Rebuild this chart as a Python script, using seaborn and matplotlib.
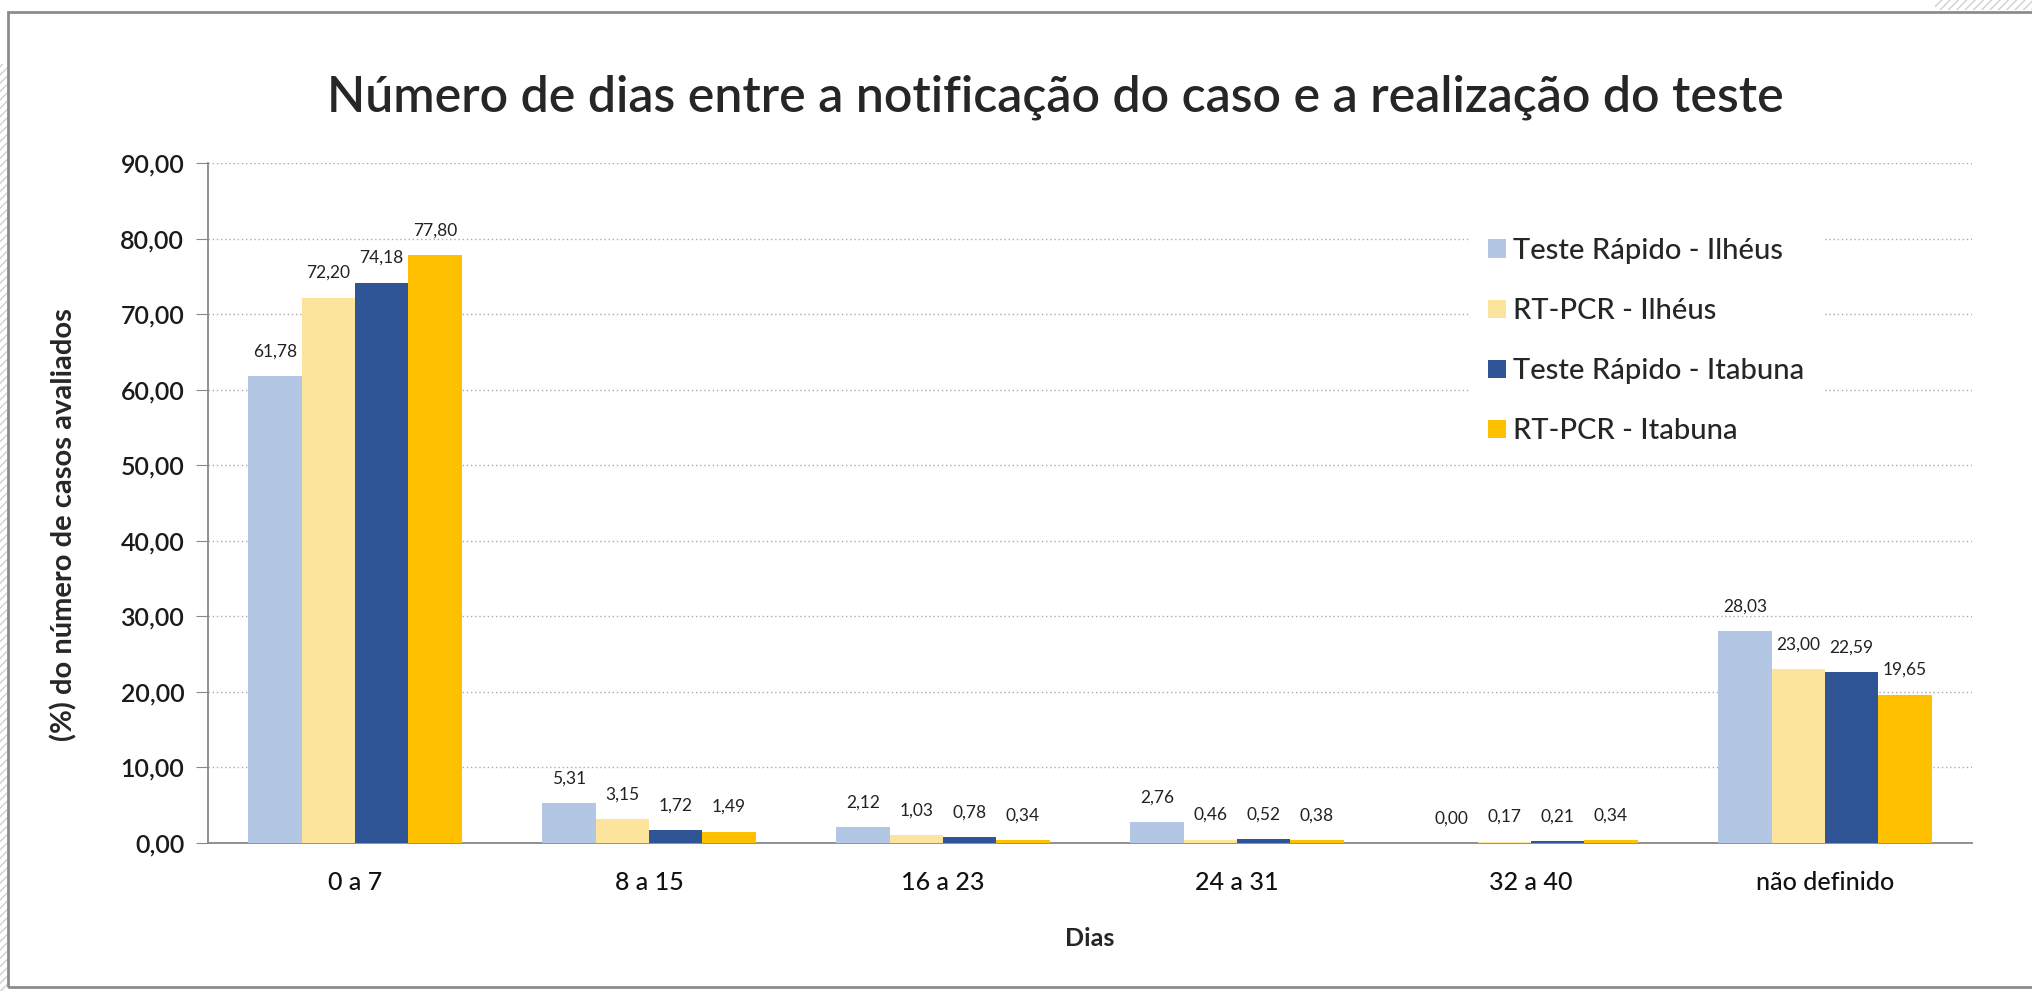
import pandas as pd
import matplotlib
matplotlib.use("Agg")
import matplotlib.pyplot as plt
import seaborn as sns
from matplotlib.patches import Rectangle

# dados
categorias = ["0 a 7", "8 a 15", "16 a 23", "24 a 31", "32 a 40", "não definido"]
series = ["Teste Rápido - Ilhéus", "RT-PCR - Ilhéus", "Teste Rápido - Itabuna", "RT-PCR - Itabuna"]
tr_ilheus = [61.78, 5.31, 2.12, 2.76, 0.00, 28.03]
pcr_ilheus = [72.20, 3.15, 1.03, 0.46, 0.17, 23.00]
tr_itabuna = [74.18, 1.72, 0.78, 0.52, 0.21, 22.59]
pcr_itabuna = [77.80, 1.49, 0.34, 0.38, 0.34, 19.65]
cores = ["#B3C6E4", "#FCE49C", "#2F5597", "#FFC000"]

linhas = []
for s, vals in zip(series, [tr_ilheus, pcr_ilheus, tr_itabuna, pcr_itabuna]):
    for c, v in zip(categorias, vals):
        linhas.append({"Dias": c, "serie": s, "valor": v})
df = pd.DataFrame(linhas)

sns.set_style("white")
plt.rcParams['font.family'] = ['Lato', 'DejaVu Sans']

fig = plt.figure(figsize=(20.33, 9.91), dpi=100)
ax = fig.add_axes([0.1023, 0.1493, 0.8677, 0.6862])

sns.barplot(data=df, x="Dias", y="valor", hue="serie", order=categorias,
            hue_order=series, palette=cores, width=0.725, saturation=1,
            linewidth=0, ax=ax, zorder=3, legend=True)

for cont in ax.containers:
    lbls = [f"{b.get_height():.2f}".replace(".", ",") for b in cont]
    ax.bar_label(cont, labels=lbls, padding=12, fontsize=12.5, color="#222222")

ax.set_ylim(0, 90)
ax.set_xlim(-0.5, len(categorias) - 0.5)
ax.set_yticks(range(0, 91, 10))
ax.set_yticklabels([f"{v:.2f}".replace(".", ",") for v in range(0, 91, 10)],
                   fontsize=18, fontweight="semibold", color="#1a1a1a")
ax.tick_params(axis="x", which="major", length=0, labelsize=18, pad=20, labelcolor="#111111")
for t in ax.get_xticklabels():
    t.set_fontweight("medium")
ax.set_xticks([i + 0.5 for i in range(-1, len(categorias))], minor=True)
ax.tick_params(axis="x", which="minor", length=9, color="#888888", direction="out")
ax.tick_params(axis="y", length=9, color="#888888", direction="out", left=True, pad=8)
ax.grid(axis="y", linestyle=(0, (1, 2)), color="#aaaaaa", linewidth=1, zorder=0)
ax.set_axisbelow(True)

for lado in ["top", "right"]:
    ax.spines[lado].set_visible(False)
for lado in ["left", "bottom"]:
    ax.spines[lado].set_color("#888888")
    ax.spines[lado].set_linewidth(1.3)

ax.set_xlabel("Dias", fontsize=18, fontweight="bold", labelpad=24)
ax.set_ylabel("(%) do número de casos avaliados", fontsize=21, fontweight="bold")
ax.yaxis.set_label_coords(-0.074, 0.468)

leg = ax.legend(loc="upper left", bbox_to_anchor=(0.7076, 0.937), frameon=True,
                fontsize=21, labelspacing=1.17, handlelength=0.6, handleheight=0.6,
                handletextpad=0.25, borderpad=0.6)
leg.get_frame().set_facecolor("white")
leg.get_frame().set_edgecolor("white")
leg.get_frame().set_alpha(1)
for t in leg.get_texts():
    t.set_fontweight("medium")

fig.text(0.519, 0.887, "Número de dias entre a notificação do caso e a realização do teste",
         fontsize=36, fontweight="semibold", ha="center", va="baseline")

# moldura
fig.patches.append(Rectangle((0.004, 0.004), 0.999, 0.984, transform=fig.transFigure,
                             fill=False, edgecolor="#8c8c8c", linewidth=2))
fig.patches.append(Rectangle((0.0, 0.0), 0.0035, 0.935, transform=fig.transFigure,
                             fill=False, hatch="////", edgecolor="#d0d0d0", linewidth=0))
fig.patches.append(Rectangle((0.952, 0.99), 0.048, 0.01, transform=fig.transFigure,
                             fill=False, hatch="////", edgecolor="#d0d0d0", linewidth=0))

fig.savefig("out.png", dpi=100, facecolor="white")
